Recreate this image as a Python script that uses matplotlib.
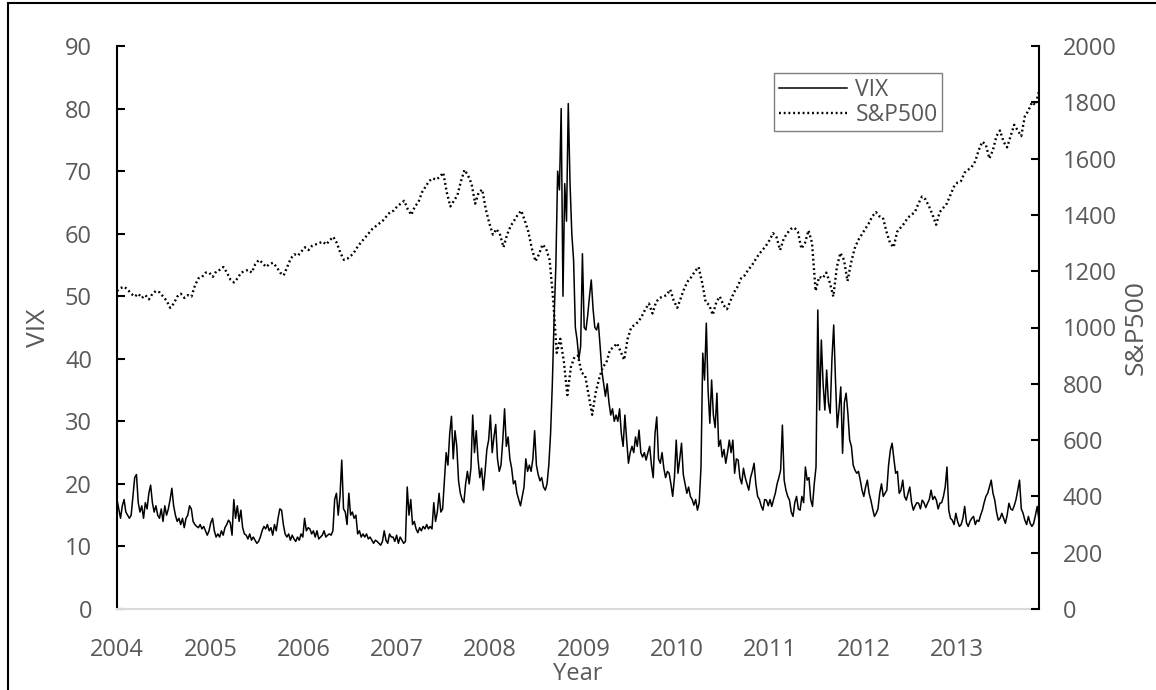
import numpy as np
import matplotlib
matplotlib.use("Agg")
import matplotlib.pyplot as plt
from matplotlib.patches import Rectangle

plt.rcParams['font.family'] = ['Open Sans', 'DejaVu Sans']

# VIX, weekly values
vix_2004 = [17.5, 16, 14.5, 16.5, 17.5, 15.5, 15, 14.5, 15, 18, 21, 21.5, 17, 15.5, 16.5, 14.5,
            17, 16, 18.5, 19.8, 17, 15.5, 16.5, 15, 14.5, 16, 14, 16.5, 15, 16, 17.5, 19.3,
            16.5, 15, 14, 14.5, 13.5, 14.5, 13, 14.5, 15, 16.5, 16, 14, 13.5, 13.2, 13, 13.5,
            12.8, 13.2, 12.5, 11.8]
vix_2005 = [12.5, 13.8, 14.5, 12.5, 11.5, 12, 11.5, 12.5, 11.8, 13, 13.5, 14.2, 13.8, 11.8, 17.5, 14.5,
            16.5, 14, 15.8, 13, 12, 11.8, 11.2, 12, 11, 11.5, 11, 10.5, 10.8, 11.5, 12.5, 13.2,
            12.8, 13.5, 12.5, 13, 11.8, 13.5, 12.5, 14.5, 16, 15.8, 13.5, 12, 11.5, 12, 11, 11.8,
            11.2, 10.8, 11.5, 11]
vix_2006 = [12, 11.5, 14.5, 12.5, 13, 12.8, 12, 12.5, 11.5, 12.5, 11.2, 11.5, 11.8, 12.5, 11.5, 11.8,
            12, 11.8, 12.5, 17.5, 18.5, 15, 18, 23.8, 16, 15.5, 13.5, 18.5, 15, 15.5, 14.5, 15,
            12, 12.5, 11.5, 12, 11.5, 12, 11.2, 11.5, 11, 10.5, 11, 10.8, 10.5, 10.2, 10.8, 12.5,
            11, 10.5, 12, 11.5]
vix_2007 = [11.5, 10.8, 11.8, 10.5, 11.5, 11, 10.5, 10.8, 19.5, 15, 17.5, 13.5, 14, 12.8, 12.2, 13,
            12.5, 13.2, 12.8, 13.5, 12.8, 13.2, 12.8, 17, 14, 15.5, 18.5, 15.5, 16, 20.5, 25, 23,
            28, 30.8, 24, 28.5, 26, 20.5, 18.5, 17.5, 17, 20, 22, 20, 22.5, 31, 25, 28.5,
            24, 21, 22.5, 19]
vix_2008 = [22, 25.5, 27, 31, 25, 27.5, 29.5, 24, 22, 23, 27, 32, 26, 27.5, 24, 22.5,
            20, 20.5, 18.5, 17.5, 16.5, 18, 19.5, 24, 22, 23, 22, 24, 28.5, 23, 21.5, 20.5,
            21, 19.5, 19, 20, 23, 28, 36, 46.5, 55, 70, 67, 80, 50, 68, 62, 80.8,
            68, 60, 55.8, 45]
vix_2009 = [43, 40, 42, 56.8, 45, 44.6, 47, 50, 52.6, 48, 45, 44.6, 45.7, 42, 38, 36,
            34, 36, 33, 31, 32, 30, 31, 30, 32, 28, 26, 31, 27, 23.3, 25, 26,
            25, 27.5, 26, 28.6, 25, 24.3, 25, 23.8, 25, 26, 23, 21, 28, 30.7, 24, 23.3,
            25, 22.5, 21, 22]
vix_2010 = [21.7, 20, 18, 21, 27, 21.7, 24, 26.5, 21.5, 20, 18.5, 19.5, 18, 17.5, 16.6, 17.5,
            15.8, 17, 22.7, 40.9, 36.6, 45.7, 35, 29.7, 36.6, 31, 29, 34.5, 26, 27, 24.3, 25.5,
            23.3, 25, 27, 25, 27, 21.7, 24, 23.8, 21, 20, 22.5, 21, 20, 19, 21, 22,
            23.3, 20, 18, 17.5]
vix_2011 = [16.5, 15.8, 17.5, 17.4, 16.5, 17.5, 16.4, 17.5, 18.5, 20, 21, 22.2, 29.4, 20.6, 19, 18,
            17.4, 15.5, 14.8, 17, 18, 16, 15.8, 18, 17, 22.7, 20.6, 21, 17.5, 16.4, 20, 22.7,
            47.8, 31.8, 43, 36, 31.8, 38.2, 33, 31.3, 40, 45.4, 36.6, 29, 32, 35.5, 24.9, 33,
            34.5, 31.3, 27, 26]
vix_2012 = [23, 22.2, 21.7, 22, 20.6, 19, 18, 19.5, 20.6, 18.5, 17.4, 16, 14.8, 15.3, 16, 18.5,
            20, 18, 18.5, 19, 23, 25.4, 26.5, 24, 21.7, 22, 18.5, 19, 20.6, 18, 17.4, 18.5,
            19.5, 17, 15.8, 16.5, 17, 16.9, 16, 17.4, 17, 16.2, 16.9, 17.5, 19, 17.5, 18, 17.4,
            16, 16.9, 17, 18]
vix_2013 = [19.5, 22.7, 15.8, 14.5, 14.2, 13.5, 15.3, 14, 13.2, 13.5, 14.5, 16.4, 13.8, 13.2, 14, 14.5,
            14.8, 13.5, 14.2, 14, 15, 15.8, 17, 18, 18.5, 19.5, 20.6, 18.5, 17.4, 15.5, 14.2, 14.5,
            15.3, 14.5, 13.7, 15, 16.9, 16, 15.8, 16.5, 17.5, 19, 20.6, 16, 15.3, 14.2, 13.5, 14.8,
            13.7, 13.2, 13.7, 15, 16.4, 14.2]

# S&P500, fortnightly values
spx_2004 = [1130, 1140, 1145, 1135, 1120, 1110, 1120, 1105, 1115, 1100, 1120, 1130, 1125, 1110, 1095, 1070,
            1085, 1110, 1120, 1105, 1115, 1110, 1150, 1175, 1180, 1195]
spx_2005 = [1195, 1180, 1200, 1205, 1215, 1195, 1170, 1160, 1175, 1195, 1200, 1205, 1195, 1225, 1240, 1230,
            1215, 1225, 1230, 1215, 1195, 1185, 1215, 1245, 1260, 1255]
spx_2006 = [1270, 1285, 1275, 1290, 1295, 1300, 1305, 1295, 1310, 1322, 1300, 1265, 1240, 1245, 1255, 1270,
            1290, 1305, 1320, 1335, 1350, 1360, 1370, 1380, 1395, 1410]
spx_2007 = [1415, 1430, 1440, 1450, 1420, 1400, 1430, 1445, 1480, 1500, 1520, 1530, 1525, 1535, 1550, 1480,
            1430, 1450, 1470, 1520, 1560, 1540, 1510, 1440, 1480, 1490]
spx_2008 = [1420, 1370, 1330, 1350, 1330, 1285, 1330, 1360, 1380, 1400, 1415, 1380, 1340, 1280, 1235, 1260,
            1295, 1280, 1240, 1100, 910, 960, 880, 760, 860, 895]
spx_2009 = [900, 840, 830, 760, 690, 770, 820, 860, 875, 920, 930, 944, 915, 885, 960, 1000,
            1010, 1020, 1040, 1065, 1085, 1050, 1090, 1105, 1110, 1115]
spx_2010 = [1135, 1095, 1070, 1105, 1140, 1165, 1180, 1200, 1215, 1160, 1090, 1080, 1045, 1090, 1110, 1080,
            1065, 1095, 1125, 1145, 1175, 1185, 1205, 1220, 1240, 1260]
spx_2011 = [1275, 1290, 1310, 1335, 1320, 1275, 1315, 1335, 1350, 1355, 1340, 1280, 1300, 1345, 1300, 1130,
            1180, 1175, 1195, 1160, 1110, 1215, 1265, 1240, 1165, 1230]
spx_2012 = [1280, 1310, 1330, 1350, 1370, 1395, 1410, 1395, 1390, 1340, 1300, 1285, 1340, 1355, 1370, 1390,
            1400, 1410, 1440, 1465, 1455, 1430, 1400, 1365, 1410, 1425]
spx_2013 = [1440, 1470, 1500, 1515, 1520, 1550, 1560, 1570, 1590, 1630, 1660, 1650, 1600, 1630, 1680, 1700,
            1660, 1640, 1680, 1720, 1700, 1680, 1750, 1770, 1800, 1790, 1840]

years = list(range(2004, 2014))
x_end = 2013.88

vix = np.concatenate([vix_2004, vix_2005, vix_2006, vix_2007, vix_2008,
                      vix_2009, vix_2010, vix_2011, vix_2012, vix_2013])
spx = np.concatenate([spx_2004, spx_2005, spx_2006, spx_2007, spx_2008,
                      spx_2009, spx_2010, spx_2011, spx_2012, spx_2013])
x_vix = np.linspace(2004, x_end, len(vix))
x_spx = np.linspace(2004, x_end, len(spx))

grey = '#595959'
fig = plt.figure(figsize=(11.56, 6.9), dpi=100)
ax = fig.add_axes([117 / 1156, 1 - 609 / 690, 922 / 1156, 563 / 690])
ax2 = ax.twinx()

l1, = ax.plot(x_vix, vix, color='black', lw=1.1, label='VIX')
l2, = ax2.plot(x_spx, spx, color='black', lw=1.7, linestyle=(0, (0.8, 1.2)), label='S&P500')

ax.set_xlim(2004, x_end)
ax.set_ylim(0, 90)
ax2.set_ylim(0, 2000)
ax.set_xticks(years)
ax.set_yticks(range(0, 91, 10))
ax2.set_yticks(range(0, 2001, 200))

for s in ['top', 'right']:
    ax.spines[s].set_visible(False)
for s in ['top', 'left', 'bottom']:
    ax2.spines[s].set_visible(False)
ax.spines['bottom'].set_color('#d9d9d9')
ax.spines['bottom'].set_linewidth(1.5)
ax.spines['left'].set_linewidth(1.5)
ax2.spines['right'].set_linewidth(1.5)

ax.tick_params(axis='y', direction='in', length=6, width=1.5, pad=18, labelsize=17, labelcolor=grey)
ax.tick_params(axis='x', length=0, pad=21, labelsize=17, labelcolor=grey)
ax2.tick_params(axis='y', direction='in', length=6, width=1.5, pad=17, labelsize=17, labelcolor=grey)

ax.set_xlabel('Year', fontsize=17, color=grey, labelpad=0)
ax.set_ylabel('VIX', fontsize=19, color=grey, labelpad=10)
ax2.set_ylabel('S&P500', fontsize=19, color=grey, labelpad=5)

leg = ax2.legend([l1, l2], ['VIX', 'S&P500'], loc='upper left', bbox_to_anchor=(0.7126, 0.952),
                 fontsize=16.5, labelcolor=grey, fancybox=False, edgecolor='#7f7f7f', framealpha=1,
                 handlelength=3.0, handletextpad=0.35, borderpad=0.2, labelspacing=0.05, borderaxespad=0)
leg.get_frame().set_linewidth(1.0)

fig.patches.append(Rectangle((8 / 1156, -0.1), 1.2, 1.1 - 3.3 / 690, transform=fig.transFigure,
                             fill=False, edgecolor='black', lw=1.5, clip_on=False))

fig.savefig('out.png', dpi=100)
